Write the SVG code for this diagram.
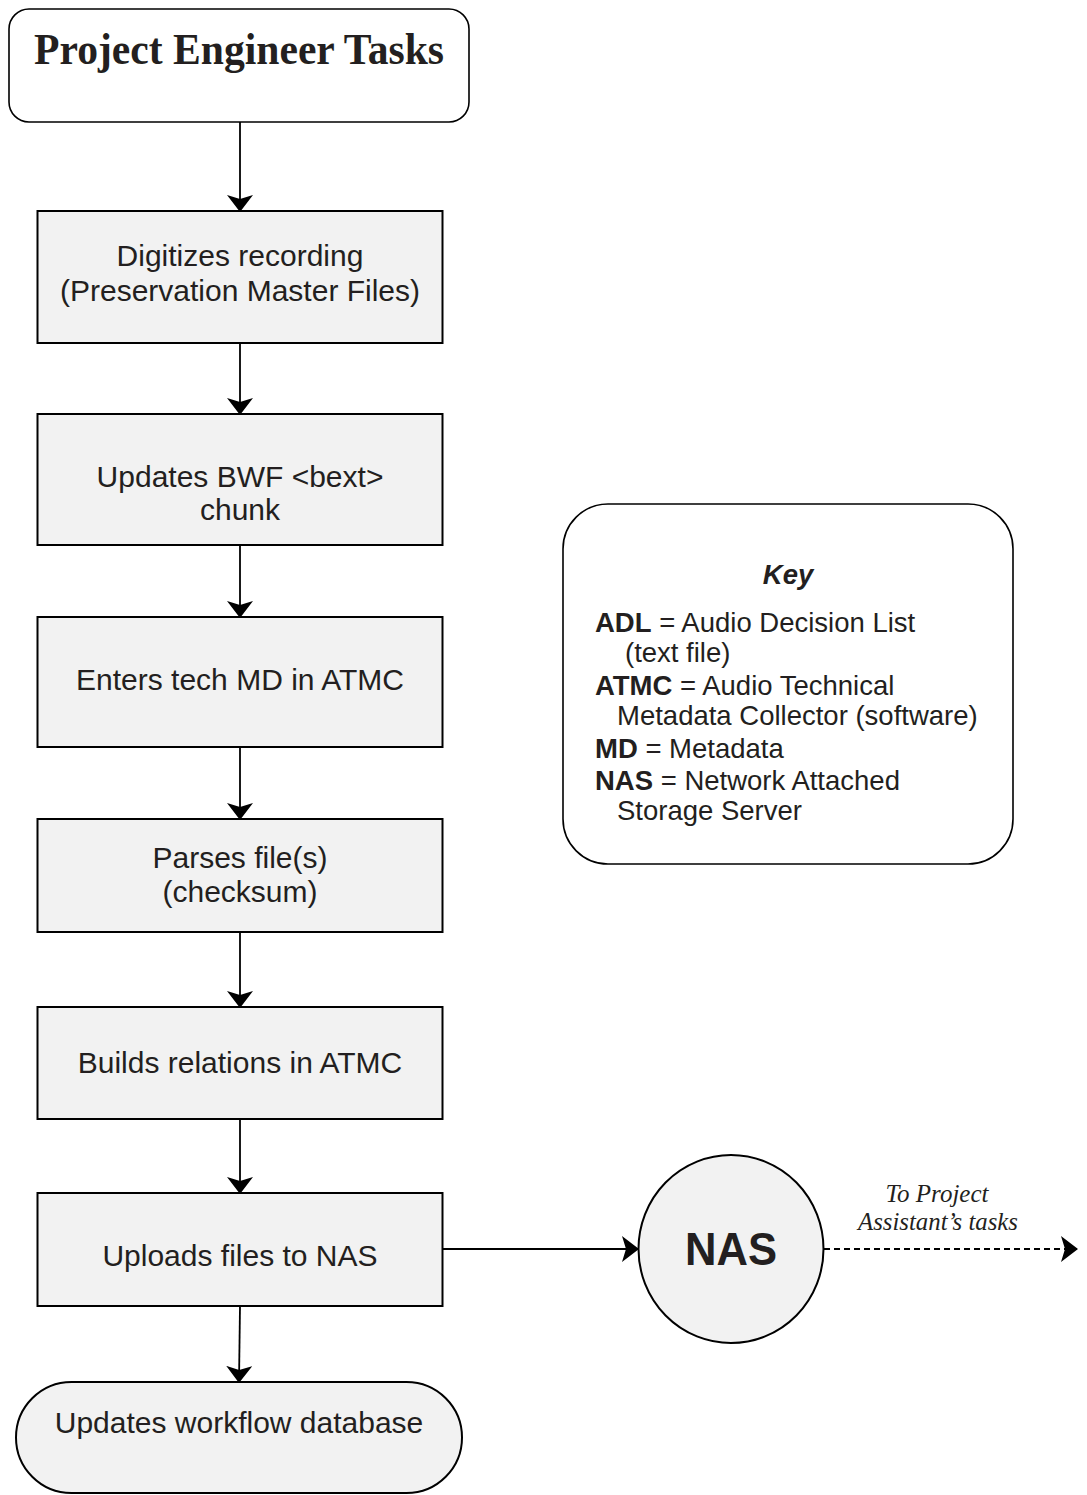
<svg xmlns="http://www.w3.org/2000/svg" width="1087" height="1495" viewBox="0 0 1087 1495">
<style>
.box{fill:#f2f2f2;stroke:#000;stroke-width:2}
.wbox{fill:#fff;stroke:#000;stroke-width:1.6}
.t{font-family:"Liberation Sans",Arial,Helvetica,sans-serif;font-size:30px;fill:#231f20;text-anchor:middle}
.k{font-family:"Liberation Sans",Arial,Helvetica,sans-serif;font-size:27.5px;fill:#231f20}
.kb{font-weight:bold}
.conn{stroke:#000;stroke-width:1.8;fill:none}
.dash{stroke-dasharray:6 4}
.note{font-family:"Liberation Serif","Times New Roman",serif;font-style:italic;font-size:26px;fill:#231f20;text-anchor:middle}
</style>
<defs>
<marker id="arr" viewBox="0 0 17 26" refX="16" refY="13" markerUnits="userSpaceOnUse" markerWidth="17" markerHeight="26" orient="auto">
<path d="M0,0 L17,13 L0,26 L4,13 Z" fill="#000"/>
</marker>
</defs>
<rect width="1087" height="1495" fill="#fff"/>

<g id="connectors">
<line class="conn" x1="240" y1="122" x2="240" y2="211" marker-end="url(#arr)"/>
<line class="conn" x1="240" y1="343" x2="240" y2="414" marker-end="url(#arr)"/>
<line class="conn" x1="240" y1="545" x2="240" y2="617" marker-end="url(#arr)"/>
<line class="conn" x1="240" y1="747" x2="240" y2="819" marker-end="url(#arr)"/>
<line class="conn" x1="240" y1="932" x2="240" y2="1007" marker-end="url(#arr)"/>
<line class="conn" x1="240" y1="1119" x2="240" y2="1193" marker-end="url(#arr)"/>
<line class="conn" x1="240" y1="1306" x2="239" y2="1382" marker-end="url(#arr)"/>
<line class="conn" x1="442" y1="1249" x2="638" y2="1249" marker-end="url(#arr)"/>
<line class="conn dash" x1="824" y1="1249" x2="1077" y2="1249" marker-end="url(#arr)"/>
</g>

<g id="title">
<rect class="wbox" x="9" y="9" width="460" height="113" rx="20" ry="20"/>
<text x="239" y="64" font-family="'Liberation Serif','Times New Roman',serif" font-weight="bold" font-size="45" fill="#231f20" text-anchor="middle" textLength="410" lengthAdjust="spacingAndGlyphs">Project Engineer Tasks</text>
</g>

<g id="digitizes">
<rect class="box" x="37.5" y="211" width="405" height="132"/>
<text class="t" x="240" y="266">Digitizes recording</text>
<text class="t" x="240" y="301">(Preservation Master Files)</text>
</g>

<g id="bext">
<rect class="box" x="37.5" y="414" width="405" height="131"/>
<text class="t" x="240" y="487">Updates BWF &lt;bext&gt;</text>
<text class="t" x="240" y="520">chunk</text>
</g>

<g id="techmd">
<rect class="box" x="37.5" y="617" width="405" height="130"/>
<text class="t" x="240" y="690">Enters tech MD in ATMC</text>
</g>

<g id="parses">
<rect class="box" x="37.5" y="819" width="405" height="113"/>
<text class="t" x="240" y="868">Parses file(s)</text>
<text class="t" x="240" y="902">(checksum)</text>
</g>

<g id="relations">
<rect class="box" x="37.5" y="1007" width="405" height="112"/>
<text class="t" x="240" y="1073">Builds relations in ATMC</text>
</g>

<g id="uploads">
<rect class="box" x="37.5" y="1193" width="405" height="113"/>
<text class="t" x="240" y="1266">Uploads files to NAS</text>
</g>

<g id="workflow">
<rect class="box" x="16" y="1382" width="446" height="111" rx="55.5" ry="55.5"/>
<text class="t" x="239" y="1433">Updates workflow database</text>
</g>

<g id="nas">
<ellipse class="box" cx="731" cy="1249" rx="92.5" ry="94"/>
<text x="731" y="1265" font-family="'Liberation Sans',Arial,Helvetica,sans-serif" font-weight="bold" font-size="46" fill="#231f20" text-anchor="middle" textLength="92" lengthAdjust="spacingAndGlyphs">NAS</text>
</g>

<g id="note">
<text class="note" x="937" y="1202" textLength="103" lengthAdjust="spacingAndGlyphs">To Project</text>
<text class="note" x="938" y="1230" textLength="160" lengthAdjust="spacingAndGlyphs">Assistant’s tasks</text>
</g>

<g id="key">
<rect class="wbox" x="563" y="504" width="450" height="360" rx="45" ry="45"/>
<text class="k" x="788" y="584" font-weight="bold" font-style="italic" text-anchor="middle">Key</text>
<text class="k" x="595" y="632"><tspan class="kb">ADL</tspan> = Audio Decision List</text>
<text class="k" x="625" y="662">(text file)</text>
<text class="k" x="595" y="695"><tspan class="kb">ATMC</tspan> = Audio Technical</text>
<text class="k" x="617" y="725">Metadata Collector (software)</text>
<text class="k" x="595" y="758"><tspan class="kb">MD</tspan> = Metadata</text>
<text class="k" x="595" y="790"><tspan class="kb">NAS</tspan> = Network Attached</text>
<text class="k" x="617" y="820">Storage Server</text>
</g>
</svg>
